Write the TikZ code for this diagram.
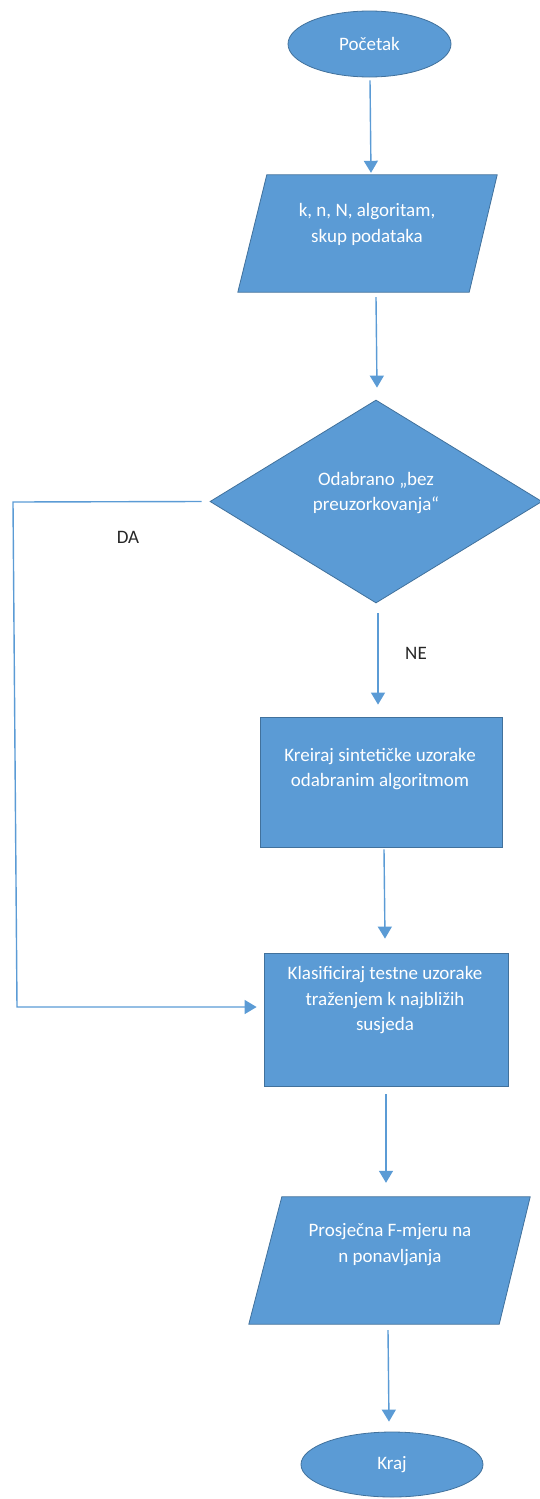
\documentclass[tikz,border=0pt]{standalone}
\usepackage{fontspec}
\setmainfont{Carlito}
\usetikzlibrary{arrows.meta,shapes.geometric,calc}
\definecolor{fillblue}{HTML}{5B9BD5}
\definecolor{edgeblue}{HTML}{41719C}
\begin{document}
\begin{tikzpicture}[x=1pt,y=-1pt,
  shapebox/.style={fill=fillblue,draw=edgeblue,line width=0.8pt,inner sep=0pt},
  ghost/.style={draw=none,fill=none,inner sep=0pt,rectangle},
  txt/.style={text=white,font=\fontsize{19}{25.5}\selectfont,align=center,inner sep=0pt},
  lbl/.style={text=black!85,font=\fontsize{19}{22}\selectfont,inner sep=0pt},
  arr/.style={draw=fillblue,line width=1.4pt,line join=miter,-{Triangle[width=14pt,length=12pt]}}]
\useasboundingbox (0,0) rectangle (540,1499);

% start
\node[shapebox,ellipse,minimum width=163pt,minimum height=66pt,txt] (start) at (369.5,44) {Početak};

% input 1
\node[ghost,minimum width=259pt,minimum height=117pt] (in1) at (367.5,233.5) {};
\path[shapebox] ($(in1.north west)+(29,0)$) -- (in1.north east) -- ($(in1.south east)-(28,0)$) -- (in1.south west) -- cycle;
\node[txt] (tin1) at (367,224.5) {k, n, N, algoritam,\\skup podataka};

% decision
\node[shapebox,diamond,minimum width=332pt,minimum height=203pt] (dec) at (376,501.5) {};
\node[txt] (tdec) at (376,493) {Odabrano „bez\\preuzorkovanja“};

% box 1
\node[shapebox,rectangle,minimum width=242pt,minimum height=130pt] (box1) at (381,782) {};
\node[txt] (tbox1) at (380,769) {Kreiraj sintetičke uzorake\\odabranim algoritmom};

% box 2
\node[shapebox,rectangle,minimum width=244pt,minimum height=133pt] (box2) at (386,1019.5) {};
\node[txt] (tbox2) at (385,1000.5) {Klasificiraj testne uzorake\\traženjem k najbližih\\susjeda};

% input 2
\node[ghost,minimum width=281pt,minimum height=127pt] (in2) at (389.5,1260.5) {};
\path[shapebox] ($(in2.north west)+(33,0)$) -- (in2.north east) -- ($(in2.south east)-(31,0)$) -- (in2.south west) -- cycle;
\node[txt] (tin2) at (390,1244.5) {Prosječna F-mjeru na\\n ponavljanja};

% end
\node[shapebox,ellipse,minimum width=182pt,minimum height=65pt,txt] (kraj) at (392,1464.5) {Kraj};

% connectors
\draw[arr] ([xshift=0.5pt,yshift=-3pt]start.south) -- ([xshift=3.5pt,yshift=2pt]in1.north);
\draw[arr] ([xshift=8.5pt,yshift=-5pt]in1.south) -- ([xshift=1pt,yshift=12pt]dec.north);
\draw[arr] ([xshift=2pt,yshift=-10pt]dec.south) -- ([xshift=-3pt,yshift=12pt]box1.north);
\draw[arr] ([xshift=3pt,yshift=-2pt]box1.south) -- ([xshift=-1pt,yshift=14pt]box2.north);
\draw[arr] ([yshift=-8pt]box2.south) -- ([xshift=-3.5pt,yshift=14pt]in2.north);
\draw[arr] ([xshift=-1.5pt,yshift=-6pt]in2.south) -- ([xshift=-3pt,yshift=10pt]kraj.north);

\coordinate (daTop) at (13,502);
\coordinate (daBot) at (17,1007);
\draw[arr] ([xshift=-8pt]dec.west) -- (daTop) -- (daBot) -- ([xshift=-7pt,yshift=12.5pt]box2.west);

% labels
\node[lbl] (lda) at (128,537) {DA};
\node[lbl] (lne) at (416,653) {NE};
\end{tikzpicture}
\end{document}
